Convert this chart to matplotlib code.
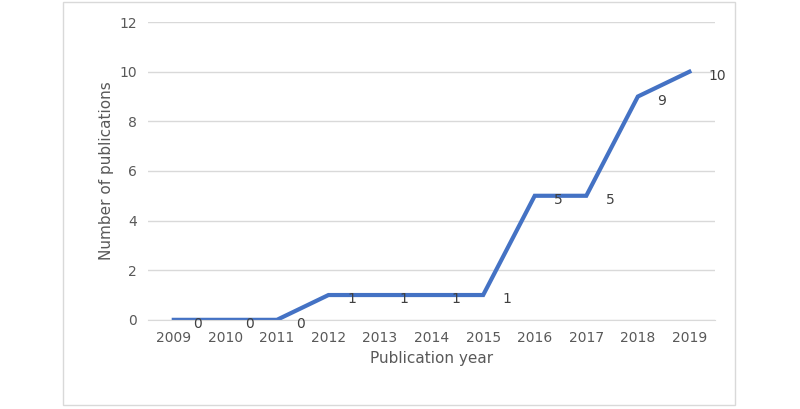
import matplotlib
matplotlib.use("Agg")
import matplotlib.pyplot as plt
from matplotlib.patches import Rectangle

years = [2009, 2010, 2011, 2012, 2013, 2014, 2015, 2016, 2017, 2018, 2019]
counts = [0, 0, 0, 1, 1, 1, 1, 5, 5, 9, 10]

fig = plt.figure(figsize=(8, 4.09), dpi=100)
fig.patches.append(Rectangle((63/800, 4/409), 672/800, 403/409, transform=fig.transFigure,
                             fill=False, edgecolor="#d9d9d9", linewidth=1))
ax = fig.add_axes([0.185, 0.218, 0.709, 0.728])
ax.plot(years, counts, color="#4472C4", linewidth=3, solid_joinstyle="miter")
for x, y in zip(years, counts):
    ax.annotate(str(y), (x, y), xytext=(14, -3), textcoords="offset points",
                ha="left", va="center", fontsize=10, color="#404040")
ax.set_xlim(2008.5, 2019.5)
ax.set_ylim(0, 12)
ax.set_yticks(range(0, 13, 2))
ax.set_xticks(years)
ax.grid(axis="y", color="#d9d9d9", linewidth=1)
ax.set_axisbelow(True)
for s in ["top", "right", "left"]:
    ax.spines[s].set_visible(False)
ax.spines["bottom"].set_color("#d9d9d9")
ax.tick_params(length=0, labelsize=10, colors="#595959", pad=8)
ax.set_xlabel("Publication year", fontsize=11, color="#595959")
ax.set_ylabel("Number of publications", fontsize=11, color="#595959")
fig.savefig("out.png", dpi=100)
